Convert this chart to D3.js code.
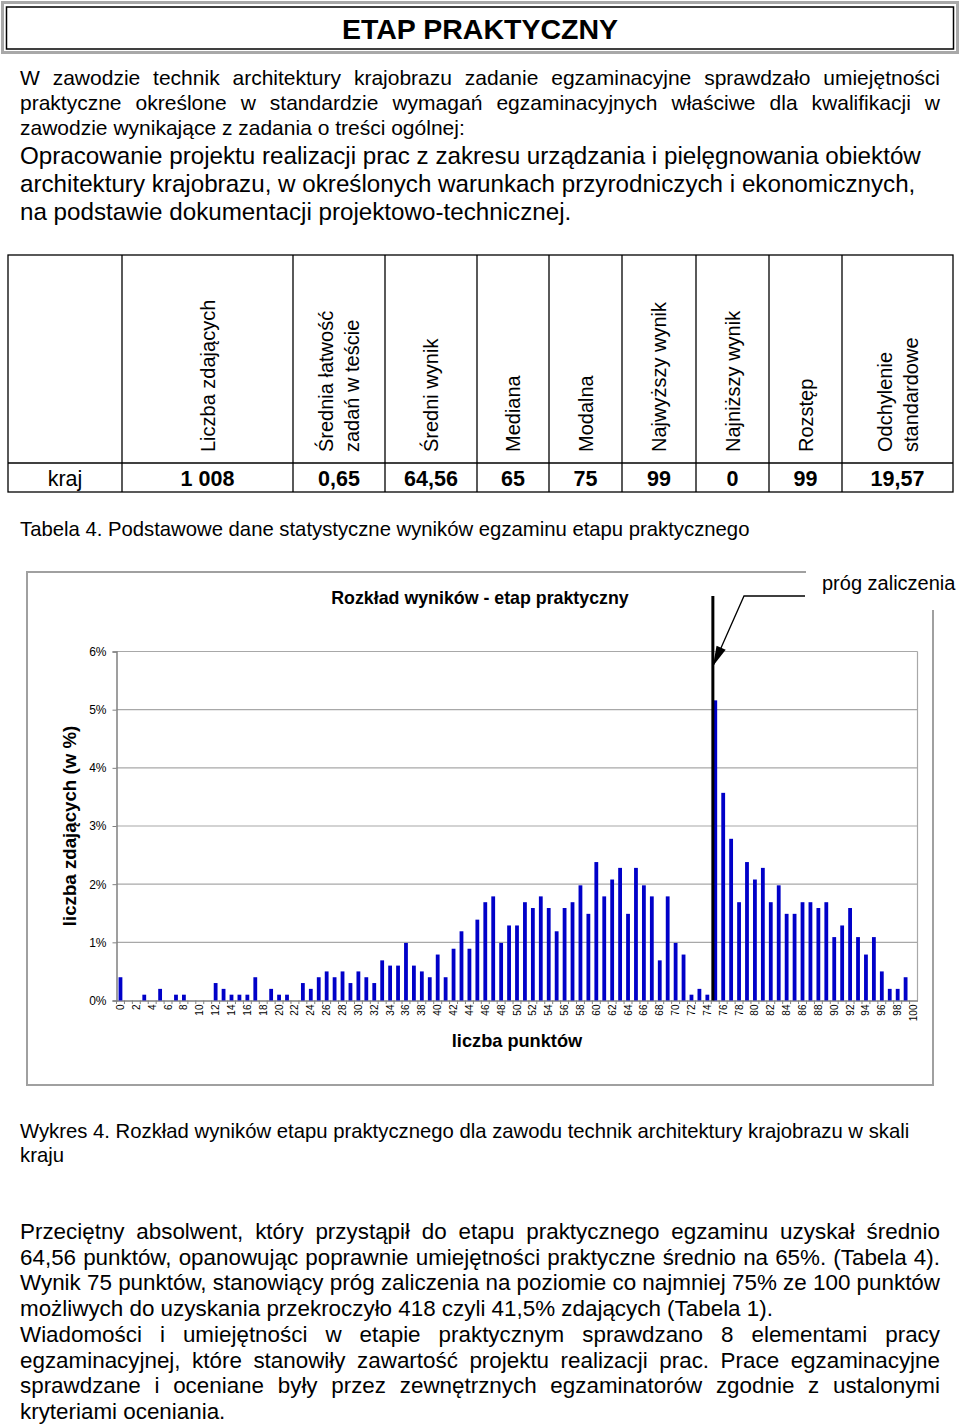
<!DOCTYPE html>
<html><head><meta charset="utf-8">
<script src="https://cdn.jsdelivr.net/npm/d3@7"></script>
<style>
body{margin:0;background:#fff}
svg{display:block}
text{font-family:'Liberation Sans',Arial,Helvetica,sans-serif;fill:#000}
</style>
</head><body>
<svg id="page" width="960" height="1428"></svg>
<script>
// ---------------- DATA ----------------
const categories = d3.range(0, 101);           // score 0..100
const values = [
 0.40,0,0,0.10,0,0.20,0,0.10,0.10,0,
 0,0,0.30,0.20,0.10,0.10,0.10,0.40,0,0.20,
 0.10,0.10,0,0.30,0.20,0.40,0.50,0.40,0.50,0.30,
 0.50,0.40,0.30,0.69,0.60,0.60,0.99,0.60,0.50,0.40,
 0.79,0.40,0.89,1.19,0.89,1.39,1.69,1.79,0.99,1.29,
 1.29,1.69,1.59,1.79,1.59,1.19,1.59,1.69,1.98,1.49,
 2.38,1.79,2.08,2.28,1.49,2.28,1.98,1.79,0.69,1.79,
 0.99,0.79,0.10,0.20,0.10,5.16,3.57,2.78,1.69,2.38,
 2.08,2.28,1.69,1.98,1.49,1.49,1.69,1.69,1.59,1.69,
 1.09,1.29,1.59,1.09,0.79,1.09,0.50,0.20,0.20,0.40,
 0
];
const yTicks = [0,1,2,3,4,5,6];
const yTickLabels = ["0%","1%","2%","3%","4%","5%","6%"];
const xTickLabels = categories.filter(d => d % 2 === 0).map(String);
const threshold = 75;

const tableHeaders = [
  [],
  ["Liczba zdających"],
  ["Średnia łatwość","zadań w teście"],
  ["Średni wynik"],
  ["Mediana"],
  ["Modalna"],
  ["Najwyższy wynik"],
  ["Najniższy wynik"],
  ["Rozstęp"],
  ["Odchylenie","standardowe"]
];
const tableRowLabel = "kraj";
const tableValues = ["1 008","0,65","64,56","65","75","99","0","99","19,57"];

const pageTitle = "ETAP PRAKTYCZNY";
const introLines = [
  "W zawodzie technik architektury krajobrazu zadanie egzaminacyjne sprawdzało umiejętności",
  "praktyczne określone w standardzie wymagań egzaminacyjnych właściwe dla kwalifikacji w",
  "zawodzie wynikające z zadania o treści ogólnej:"
];
const taskLines = [
  "Opracowanie projektu realizacji prac z zakresu urządzania i pielęgnowania obiektów",
  "architektury krajobrazu, w określonych warunkach przyrodniczych i ekonomicznych,",
  "na podstawie dokumentacji projektowo-technicznej."
];
const tableCaption = "Tabela 4. Podstawowe dane statystyczne wyników egzaminu etapu praktycznego";
const chartTitle = "Rozkład wyników - etap praktyczny";
const yTitle = "liczba zdających (w %)";
const xTitle = "liczba punktów";
const calloutLabel = "próg zaliczenia";
const chartCaption = [
  "Wykres 4. Rozkład wyników etapu praktycznego dla zawodu technik architektury krajobrazu w skali",
  "kraju"
];
const finalLines = [
  ["Przeciętny absolwent, który przystąpił do etapu praktycznego egzaminu uzyskał średnio", true],
  ["64,56 punktów, opanowując poprawnie umiejętności praktyczne średnio na 65%. (Tabela 4).", true],
  ["Wynik 75 punktów, stanowiący próg zaliczenia na poziomie co najmniej 75% ze 100 punktów", true],
  ["możliwych do uzyskania przekroczyło 418 czyli 41,5% zdających (Tabela 1).", false],
  ["Wiadomości i umiejętności w etapie praktycznym sprawdzano 8 elementami pracy", true],
  ["egzaminacyjnej, które stanowiły zawartość projektu realizacji prac. Prace egzaminacyjne", true],
  ["sprawdzane i oceniane były przez zewnętrznych egzaminatorów zgodnie z ustalonymi", true],
  ["kryteriami oceniania.", false]
];

// ---------------- HELPERS ----------------
const svg = d3.select("#page");

function textLine(g, str, x, y, size, opts = {}) {
  const weight = opts.weight || "normal";
  if (!opts.justify) {
    return g.append("text").attr("x", x).attr("y", y).attr("font-size", size)
      .attr("font-weight", weight).attr("text-anchor", opts.anchor || "start").text(str);
  }
  const words = str.split(" ");
  const t = g.append("text").attr("y", y).attr("font-size", size).attr("font-weight", weight);
  const spans = words.map(w => t.append("tspan").text(w));
  const widths = spans.map(s => s.node().getComputedTextLength());
  const gap = (opts.width - d3.sum(widths)) / (words.length - 1);
  let cx = x;
  spans.forEach((s, i) => { s.attr("x", cx); cx += widths[i] + gap; });
  return t;
}

// ---------------- HEADER ----------------
svg.append("rect").attr("x", 2.5).attr("y", 2.5).attr("width", 955).attr("height", 50)
  .attr("fill", "none").attr("stroke", "#a8a8a8").attr("stroke-width", 3);
svg.append("rect").attr("x", 6.5).attr("y", 7).attr("width", 947).attr("height", 42)
  .attr("fill", "#fff").attr("stroke", "#000").attr("stroke-width", 1.5);
textLine(svg, pageTitle, 480, 39, 28.5, {weight: "bold", anchor: "middle"});

// ---------------- INTRO TEXT ----------------
introLines.forEach((l, i) => textLine(svg, l, 20, 85 + i * 25, 21, {justify: i < 2, width: 920}));
taskLines.forEach((l, i) => textLine(svg, l, 20, 164 + i * 28, 24.2));

// ---------------- TABLE ----------------
const colX = [8, 122, 293, 385, 477, 549, 622, 696, 769, 842, 953];
const tTop = 255, tMid = 463, tBot = 492;
const tbl = svg.append("g");
tbl.append("rect").attr("x", colX[0]).attr("y", tTop).attr("width", colX[10] - colX[0])
  .attr("height", tBot - tTop).attr("fill", "none").attr("stroke", "#000").attr("stroke-width", 1.3);
tbl.append("line").attr("x1", colX[0]).attr("x2", colX[10]).attr("y1", tMid).attr("y2", tMid)
  .attr("stroke", "#000").attr("stroke-width", 1.3);
colX.slice(1, 10).forEach(x => tbl.append("line").attr("x1", x).attr("x2", x)
  .attr("y1", tTop).attr("y2", tBot).attr("stroke", "#000").attr("stroke-width", 1.3));
tableHeaders.forEach((lines, i) => {
  const cx = (colX[i] + colX[i + 1]) / 2;
  const n = lines.length;
  lines.forEach((l, j) => {
    const bx = cx + 7 + (j - (n - 1) / 2) * 26;
    tbl.append("text").attr("transform", `translate(${bx},452) rotate(-90)`)
      .attr("font-size", 20).text(l);
  });
});
textLine(tbl, tableRowLabel, (colX[0] + colX[1]) / 2, 486, 21.5, {anchor: "middle"});
tableValues.forEach((v, i) => {
  textLine(tbl, v, (colX[i + 1] + colX[i + 2]) / 2, 486, 21.5, {anchor: "middle", weight: "bold"});
});
textLine(svg, tableCaption, 20, 536, 20.3);

// ---------------- CHART ----------------
const chart = svg.append("g");
chart.append("rect").attr("x", 27).attr("y", 572).attr("width", 906).attr("height", 513)
  .attr("fill", "#fff").attr("stroke", "#a0a0a0").attr("stroke-width", 2);

const x = d3.scaleBand().domain(categories).range([116.5, 917.5]).paddingInner(0.52).paddingOuter(0.26);
const y = d3.scaleLinear().domain([0, 6]).range([1000.5, 651.5]);

// gridlines
chart.append("g").selectAll("line").data(yTicks.filter(d => d > 0)).join("line")
  .attr("x1", 116.5).attr("x2", 917.5).attr("y1", d => y(d)).attr("y2", d => y(d))
  .attr("stroke", "#a8a8a8").attr("stroke-width", 1.2);
chart.append("line").attr("x1", 917.5).attr("x2", 917.5).attr("y1", y(6)).attr("y2", y(0))
  .attr("stroke", "#a8a8a8").attr("stroke-width", 1.2);

// y axis
const yAxis = d3.axisLeft(y).tickValues(yTicks).tickFormat((d, i) => yTickLabels[i]).tickSize(4).tickPadding(6);
const yg = chart.append("g").attr("transform", "translate(116.5,0)").call(yAxis);
yg.select(".domain").attr("stroke", "#808080").attr("stroke-width", 1.5);
yg.selectAll(".tick line").attr("stroke", "#808080");
yg.selectAll(".tick text").attr("font-size", 12).attr("font-family", "'Liberation Sans',Arial,sans-serif").attr("fill", "#000");

// x axis
const xAxis = d3.axisBottom(x).tickValues(categories.filter(d => d % 2 === 0))
  .tickFormat((d, i) => xTickLabels[i]).tickSize(0).tickPadding(4);
const xg = chart.append("g").attr("transform", "translate(0,1000.5)").call(xAxis);
xg.select(".domain").attr("stroke", "#808080").attr("stroke-width", 1.5);
xg.selectAll(".tick text").attr("font-size", 10).attr("font-family", "'Liberation Sans',Arial,sans-serif")
  .attr("fill", "#000").attr("text-anchor", "end").attr("dy", "0.35em")
  .attr("transform", "translate(0,4) rotate(-90)").attr("x", 0).attr("y", 0);
// minor ticks at every category boundary
chart.append("g").selectAll("line").data(categories).join("line")
  .attr("x1", d => x(d) - x.step() * x.paddingInner() / 2).attr("x2", d => x(d) - x.step() * x.paddingInner() / 2)
  .attr("y1", 1000.5).attr("y2", 1004).attr("stroke", "#808080");

// bars
chart.append("g").selectAll("rect").data(categories).join("rect")
  .attr("x", d => x(d)).attr("width", x.bandwidth())
  .attr("y", d => y(values[d])).attr("height", d => y(0) - y(values[d]))
  .attr("fill", "#0000c8");

// threshold line
const tx = x(threshold) - 0.5;
chart.append("line").attr("x1", tx).attr("x2", tx).attr("y1", 596).attr("y2", y(0))
  .attr("stroke", "#000").attr("stroke-width", 3);

// titles
textLine(chart, chartTitle, 480, 604, 17.8, {weight: "bold", anchor: "middle"});
textLine(chart, xTitle, 517, 1047, 18.2, {weight: "bold", anchor: "middle"});
chart.append("text").attr("transform", "translate(76,826) rotate(-90)").attr("text-anchor", "middle")
  .attr("font-size", 18.7).attr("font-weight", "bold").text(yTitle);

// callout label
chart.append("rect").attr("x", 806).attr("y", 560).attr("width", 154).attr("height", 50).attr("fill", "#fff");
textLine(chart, calloutLabel, 822, 590, 20);
const tip = [713, 666], elbow = [744, 596];
chart.append("polyline").attr("points", [[805, 596], elbow, tip].map(p => p.join(",")).join(" "))
  .attr("fill", "none").attr("stroke", "#000").attr("stroke-width", 1.3);
const ang = Math.atan2(tip[1] - elbow[1], tip[0] - elbow[0]);
const al = 20, aw = 5;
const base = [tip[0] - al * Math.cos(ang), tip[1] - al * Math.sin(ang)];
chart.append("polygon").attr("points", [
  tip,
  [base[0] + aw * Math.sin(ang), base[1] - aw * Math.cos(ang)],
  [base[0] - aw * Math.sin(ang), base[1] + aw * Math.cos(ang)]
].map(p => p.join(",")).join(" ")).attr("fill", "#000");

// ---------------- CAPTION + FINAL TEXT ----------------
chartCaption.forEach((l, i) => textLine(svg, l, 20, 1138 + i * 24, 20.3));
finalLines.forEach(([l, j], i) => textLine(svg, l, 20, 1239 + i * 25.7, 22.4, {justify: j, width: 920}));
</script>
</body></html>
